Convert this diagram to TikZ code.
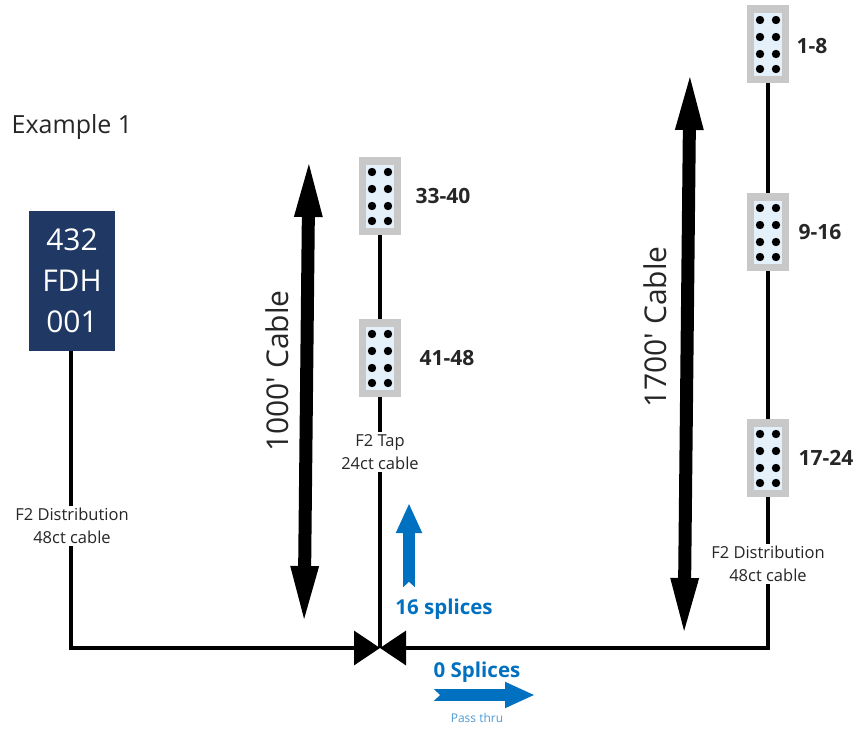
\documentclass[tikz,border=0pt]{standalone}
\usepackage{fontspec}
\setmainfont{Open Sans}
\usetikzlibrary{arrows.meta}
\definecolor{fdhblue}{HTML}{1F3864}
\definecolor{splicetext}{HTML}{0070C0}
\definecolor{blockgray}{HTML}{C8C8C8}
\definecolor{blockglow}{HTML}{E4F0FA}

\begin{document}
\begin{tikzpicture}[
      x=1pt, y=-1pt,
      portblock/.style={fill=blockgray, minimum width=42pt, minimum height=78pt, inner sep=0pt},
      portlabel/.style={font=\fontsize{21}{25}\selectfont\bfseries, text=black!85},
      fdh/.style={fill=fdhblue, text=white, minimum width=86pt, minimum height=140pt, inner sep=0pt,
        align=center, font=\fontsize{30}{41}\selectfont},
      fiber/.style={line width=3.4pt},
      spliced/.style={fiber, -{Triangle[length=26pt, width=34pt]}},
      cablelabel/.style={fill=white, inner sep=2pt, align=center, text=black!85,
        font=\fontsize{16.5}{23}\selectfont},
      span/.style={line width=13pt, {Triangle[length=63pt, width=24pt]}-{Triangle[length=63pt, width=24pt]}},
      spantext/.style={rotate=90, font=\fontsize{30}{36}\selectfont, text=black!85},
      splicecount/.style={font=\fontsize{20.5}{24}\selectfont\bfseries, text=splicetext},
      bluearrow/.style={line width=12pt, draw=splicetext, -{Triangle[length=30pt, width=24pt]}},
    ]
    \useasboundingbox (0,0) rectangle (857,730);

    % Title and cabinet
    \node[font=\fontsize{25}{30}\selectfont, text=black!85] (title) at (72,127) {Example 1};
    \node[fdh] (cabinet) at (72,281) {432\\FDH\\001};
    \coordinate (splice) at (380,648);

    % Port blocks
    \foreach \name/\x/\y in {a/380/196, b/380/358, c/768/44, d/768/232, e/768/458} {
      \node[portblock] (\name) at (\x,\y) {};
      \fill[blockglow] (\x-14,\y-31) rectangle (\x+14,\y+32);
      \foreach \dy in {-24,-7,10,25}
        \foreach \dx in {-8,8}
          \fill (\x+\dx,\y+\dy) circle (4.2pt);
    }
    \foreach \name/\x/\y/\num in {la/443/196/33-40, lb/447/358/41-48, lc/812/46/1-8,
                                  ld/820/232/9-16, le/826/458/17-24}
      \node[portlabel] (\name) at (\x,\y) {\num};

    % Cables
    \draw[fiber] (a) -- (b);
    \draw[fiber] (c) -- (d);
    \draw[fiber] (d) -- (e);
    \draw[fiber] (b) -- (splice);
    \draw[spliced] (cabinet.south -| 71,0) |- (splice);
    \draw[spliced] (e) |- (splice);

    % Cable labels
    \node[cablelabel] (tap) at (380,452) {F2 Tap\\24ct cable};
    \node[cablelabel] (distleft) at (72,526) {F2 Distribution\\48ct cable};
    \node[cablelabel] (distright) at (768,564) {F2 Distribution\\48ct cable};

    % Cable lengths
    \coordinate (shorttop) at (309,154);
    \coordinate (shortend) at (304,629);
    \coordinate (longtop) at (690,67);
    \coordinate (longend) at (684,641);
    \draw[span] (shorttop) -- (shortend);
    \draw[span] (longtop) -- (longend);
    \node[spantext] (shorttext) at (277,371) {1000\textquotesingle\ Cable};
    \node[spantext] (longtext) at (655,327) {1700\textquotesingle\ Cable};

    % Splice counts
    \coordinate (tapfrom) at (409,587);
    \coordinate (tapto) at (409,503);
    \coordinate (passfrom) at (434,695);
    \coordinate (passto) at (535,695);
    \draw[bluearrow] (tapfrom) -- (tapto);
    \draw[bluearrow] (passfrom) -- (passto);
    \fill[white] (403,587.5) -- (409,582) -- (415,587.5) -- cycle;
    \fill[white] (433.5,689) -- (440,695) -- (433.5,701) -- cycle;
    \node[splicecount] (tapcount) at (444,609) {16 splices};
    \node[splicecount] (passcount) at (477,672) {0 Splices};
    \node[font=\fontsize{12}{14}\selectfont, text=splicetext!70] (passtext) at (477,718) {Pass thru};
  \end{tikzpicture}
\end{document}
